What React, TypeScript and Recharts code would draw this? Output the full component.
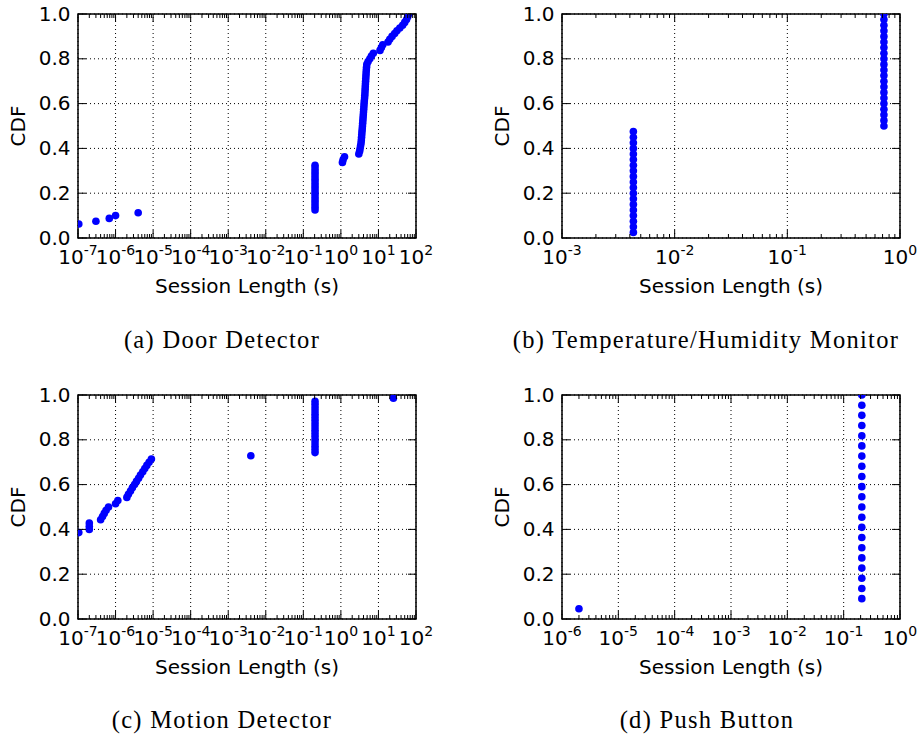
import React from 'react';
import { ScatterChart, Scatter, XAxis, YAxis, ReferenceLine, ReferenceArea } from 'recharts';

// ---- data: observed session lengths (seconds) with how many sessions had that length ----
// (a) Door Detector — first entry lies below the visible axis range
const doorSessions: [number, number][] = [
  [5e-8, 4],
  [1.05e-7, 1], [3e-7, 1], [6.8e-7, 1], [1e-6, 1], [4e-6, 1],
  [0.205, 17],
  [1.1, 1], [1.15, 1], [1.25, 1],
  [3.0, 1], [3.15, 1], [3.25, 1], [3.35, 1], [3.45, 1], [3.5, 1], [3.55, 1], [3.6, 1], [3.65, 1], [3.7, 1],
  [3.75, 1], [3.8, 1], [3.85, 1], [3.9, 1], [3.95, 1], [4.0, 1], [4.05, 1], [4.1, 1], [4.15, 1], [4.2, 1],
  [4.28, 1], [4.33, 1], [4.38, 1], [4.42, 1], [4.46, 1], [4.5, 1], [4.55, 1], [4.6, 1], [4.65, 1], [4.7, 1],
  [4.75, 1], [4.82, 1], [4.9, 1],
  [5.3, 1], [5.9, 1], [6.5, 1], [7.3, 1],
  [11, 1], [12, 1], [13, 1], [18, 1], [20, 1], [23, 1], [27, 1], [31, 1], [37, 1], [44, 1], [50, 1], [56, 1], [60, 1], [64, 1],
];
// (b) Temperature/Humidity Monitor
const tempSessions: [number, number][] = [
  [0.0043, 19],
  [0.72, 21],
];
// (c) Motion Detector — first and last entries lie outside the visible axis range
const motionSessions: [number, number][] = [
  [5e-8, 26],
  [1.05e-7, 1], [2e-7, 3],
  [4e-7, 1], [4.5e-7, 1], [5e-7, 1], [5.6e-7, 1], [6.5e-7, 1],
  [1.0e-6, 1], [1.15e-6, 1], [2.0e-6, 1], [2.2e-6, 1],
  [2.5e-6, 1], [2.8e-6, 1], [3.2e-6, 1], [3.6e-6, 1], [4.1e-6, 1], [4.6e-6, 1], [5.3e-6, 1], [6e-6, 1], [6.8e-6, 1], [7.8e-6, 1], [9e-6, 1],
  [4e-3, 1],
  [0.205, 17],
  [25, 1],
  [200, 1],
];
// (d) Push Button
const buttonSessions: [number, number][] = [
  [2e-6, 1],
  [0.21, 21],
];

// ---- tick labels ----
const cdfTicks = [0, 0.2, 0.4, 0.6, 0.8, 1.0];
const doorDecades = [-7, -6, -5, -4, -3, -2, -1, 0, 1, 2];
const tempDecades = [-3, -2, -1, 0];
const motionDecades = [-7, -6, -5, -4, -3, -2, -1, 0, 1, 2];
const buttonDecades = [-6, -5, -4, -3, -2, -1, 0];
const captions = [
  '(a) Door Detector',
  '(b) Temperature/Humidity Monitor',
  '(c) Motion Detector',
  '(d) Push Button',
];
const yTitle = 'CDF';
const xTitle = 'Session Length (s)';

// ---- helpers ----
function toCdf(samples: [number, number][]) {
  const total = samples.reduce((s, [, c]) => s + c, 0);
  const pts: { x: number; y: number }[] = [];
  let k = 0;
  for (const [x, c] of samples) {
    for (let i = 0; i < c; i++) {
      k++;
      pts.push({ x, y: k / total });
    }
  }
  return pts;
}

function logTicks(decades: number[]) {
  const out: number[] = [];
  decades.forEach((d, i) => {
    out.push(Math.pow(10, d));
    if (i < decades.length - 1) {
      for (let m = 2; m <= 9; m++) out.push(m * Math.pow(10, d));
    }
  });
  return out;
}

const PLOT_W = 338;
const PLOT_H = 224;
const FONT = 'DejaVu Sans';
const BLUE = '#0000ff';

const makeXTick = () => (props: any) => {
  const { x, y, payload } = props;
  const v = payload.value as number;
  const e = Math.log10(v);
  const re = Math.round(e);
  const isMajor = Math.abs(e - re) < 1e-6;
  const len = isMajor ? 8 : 4;
  const expStr = re < 0 ? '-' + Math.abs(re) : String(re);
  return (
    <g>
      <line x1={x} x2={x} y1={y} y2={y - len} stroke="#000" strokeWidth={1} />
      <line x1={x} x2={x} y1={y - PLOT_H} y2={y - PLOT_H + len} stroke="#000" strokeWidth={1} />
      {isMajor && (
        <text x={x} y={y + 25.5} textAnchor="middle" fontFamily={FONT} fontSize={20} fill="#000">
          10<tspan fontSize={14} dy={-9}>{expStr}</tspan>
        </text>
      )}
    </g>
  );
};

const makeYTick = () => (props: any) => {
  const { x, y, payload } = props;
  return (
    <g>
      <line x1={x} x2={x + 8} y1={y} y2={y} stroke="#000" strokeWidth={1} />
      <line x1={x + PLOT_W} x2={x + PLOT_W - 8} y1={y} y2={y} stroke="#000" strokeWidth={1} />
      <text x={x - 7.5} y={y + 6.5} textAnchor="end" fontFamily={FONT} fontSize={20} fill="#000">
        {(payload.value as number).toFixed(1)}
      </text>
    </g>
  );
};

const Dot = (props: any) => <circle cx={props.cx} cy={props.cy} r={3.8} fill={BLUE} />;

type PanelProps = {
  samples: [number, number][];
  decades: number[];
  left: number;
  top: number;
  width: number;
  marginTop: number;
  marginRight: number;
  yAxisWidth: number;
  xAxisHeight: number;
};

function Panel(p: PanelProps) {
  const data = toCdf(p.samples);
  const xTicks = logTicks(p.decades);
  const majors = p.decades.map((d) => Math.pow(10, d));
  const domain: [number, number] = [majors[0], majors[majors.length - 1]];
  return (
    <div style={{ position: 'absolute', left: p.left, top: p.top }}>
      <ScatterChart
        width={p.width}
        height={300}
        margin={{ top: p.marginTop, right: p.marginRight, bottom: 0, left: 0 }}
      >
        <XAxis
          dataKey="x"
          type="number"
          scale="log"
          domain={domain}
          allowDataOverflow
          ticks={xTicks}
          interval={0}
          tick={makeXTick()}
          tickLine={false}
          axisLine={false}
          tickSize={0}
          tickMargin={0}
          height={p.xAxisHeight}
        />
        <YAxis
          dataKey="y"
          type="number"
          domain={[0, 1]}
          allowDataOverflow
          ticks={cdfTicks}
          interval={0}
          tick={makeYTick()}
          tickLine={false}
          axisLine={false}
          tickSize={0}
          tickMargin={0}
          width={p.yAxisWidth}
        />
        {majors.map((m) => (
          <ReferenceLine key={'vx' + m} x={m} stroke="#000" strokeWidth={1} strokeDasharray="1 3" />
        ))}
        {cdfTicks.map((t) => (
          <ReferenceLine key={'hy' + t} y={t} stroke="#000" strokeWidth={1} strokeDasharray="1 3" />
        ))}
        <Scatter data={data} isAnimationActive={false} shape={Dot} fill={BLUE} />
        <ReferenceArea
          x1={domain[0]}
          x2={domain[1]}
          y1={0}
          y2={1}
          fill="none"
          stroke="#000"
          strokeWidth={1.5}
          ifOverflow="visible"
        />
      </ScatterChart>
    </div>
  );
}

export default function App() {
  const titleStyle = { fontFamily: FONT, fontSize: 20, fill: '#000' } as const;
  const capStyle = { fontFamily: 'Liberation Serif', fontSize: 24.5, fill: '#000', letterSpacing: 1.3 } as const;
  return (
    <div style={{ position: 'absolute', left: 0, top: 0, width: 919, height: 737, background: '#fff', overflow: 'hidden' }}>
      <Panel samples={doorSessions} decades={doorDecades} left={0} top={0} width={460} marginTop={14} marginRight={44} yAxisWidth={78} xAxisHeight={62} />
      <Panel samples={tempSessions} decades={tempDecades} left={460} top={0} width={459} marginTop={14} marginRight={19} yAxisWidth={102} xAxisHeight={62} />
      <Panel samples={motionSessions} decades={motionDecades} left={0} top={380} width={460} marginTop={15} marginRight={44} yAxisWidth={78} xAxisHeight={61} />
      <Panel samples={buttonSessions} decades={buttonDecades} left={460} top={380} width={459} marginTop={15} marginRight={19} yAxisWidth={102} xAxisHeight={61} />
      <svg width={919} height={737} style={{ position: 'absolute', left: 0, top: 0, pointerEvents: 'none' }}>
        <text transform="translate(25,126) rotate(-90)" textAnchor="middle" {...titleStyle}>{yTitle}</text>
        <text transform="translate(509,126) rotate(-90)" textAnchor="middle" {...titleStyle}>{yTitle}</text>
        <text transform="translate(25,507) rotate(-90)" textAnchor="middle" {...titleStyle}>{yTitle}</text>
        <text transform="translate(509,507) rotate(-90)" textAnchor="middle" {...titleStyle}>{yTitle}</text>
        <text x={247} y={293} textAnchor="middle" {...titleStyle}>{xTitle}</text>
        <text x={731} y={293} textAnchor="middle" {...titleStyle}>{xTitle}</text>
        <text x={247} y={674} textAnchor="middle" {...titleStyle}>{xTitle}</text>
        <text x={731} y={674} textAnchor="middle" {...titleStyle}>{xTitle}</text>
        <text x={222} y={348} textAnchor="middle" {...capStyle}>{captions[0]}</text>
        <text x={706} y={348} textAnchor="middle" {...capStyle}>{captions[1]}</text>
        <text x={222} y={728} textAnchor="middle" {...capStyle}>{captions[2]}</text>
        <text x={707} y={728} textAnchor="middle" {...capStyle}>{captions[3]}</text>
      </svg>
    </div>
  );
}
